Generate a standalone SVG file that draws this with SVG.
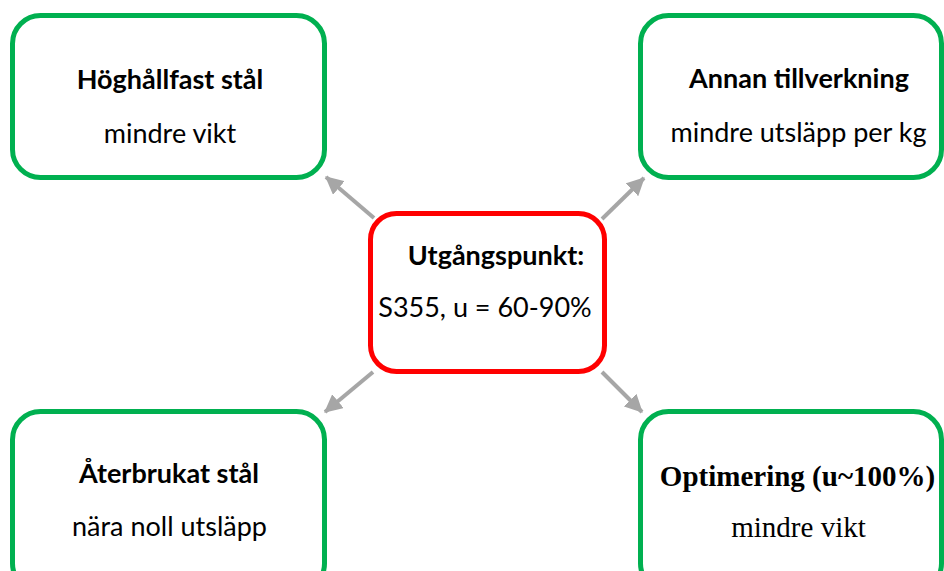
<svg xmlns="http://www.w3.org/2000/svg" width="944" height="571" viewBox="0 0 944 571">
<style>
.g{fill:#fff;stroke:#00b050;stroke-width:5}
.r{fill:#fff;stroke:#ff0000;stroke-width:5}
.c{stroke:#a6a6a6;stroke-width:4;fill:none;marker-end:url(#ah)}
.t{font-family:Lato,"Open Sans",sans-serif;font-size:27px;fill:#000;text-anchor:middle}
.b{font-weight:bold}
.tm{font-family:"Liberation Serif","Times New Roman",serif;font-size:29px;fill:#000;text-anchor:middle}
</style>
<defs>
<marker id="ah" markerUnits="userSpaceOnUse" markerWidth="18" markerHeight="18" refX="15" refY="8" orient="auto" viewBox="0 0 16 16">
<path d="M0,0 L16,8 L0,16 Z" fill="#a6a6a6"/>
</marker>
</defs>
<rect width="944" height="571" fill="#fff"/>
<g id="connectors">
<line class="c" x1="374" y1="218" x2="326" y2="177"/>
<line class="c" x1="602" y1="219" x2="644" y2="178"/>
<line class="c" x1="373" y1="372" x2="325" y2="412"/>
<line class="c" x1="602" y1="372" x2="642" y2="412"/>
</g>
<g id="hoghallfast">
<rect class="g" x="12.5" y="15.5" width="312" height="162" rx="28"/>
<text class="t b" x="170" y="89">Höghållfast stål</text>
<text class="t" x="170" y="143">mindre vikt</text>
</g>
<g id="annan">
<rect class="g" x="640.5" y="15.5" width="301" height="162" rx="28"/>
<text class="t b" x="799" y="88">Annan tillverkning</text>
<text class="t" x="798.5" y="142">mindre utsläpp per kg</text>
</g>
<g id="utgangspunkt">
<rect class="r" x="370.5" y="213.5" width="234" height="158" rx="26"/>
<text class="t b" x="496" y="265">Utgångspunkt:</text>
<text class="t" x="485" y="317">S355, u = 60-90%</text>
</g>
<g id="aterbrukat">
<rect class="g" x="12.5" y="411.5" width="312" height="180" rx="28"/>
<text class="t b" x="169" y="483">Återbrukat stål</text>
<text class="t" x="169.5" y="536">nära noll utsläpp</text>
</g>
<g id="optimering">
<rect class="g" x="640.5" y="411.5" width="301" height="180" rx="28"/>
<text class="tm b" x="797.5" y="486">Optimering (u~100%)</text>
<text class="tm" x="798.5" y="537">mindre vikt</text>
</g>
</svg>
